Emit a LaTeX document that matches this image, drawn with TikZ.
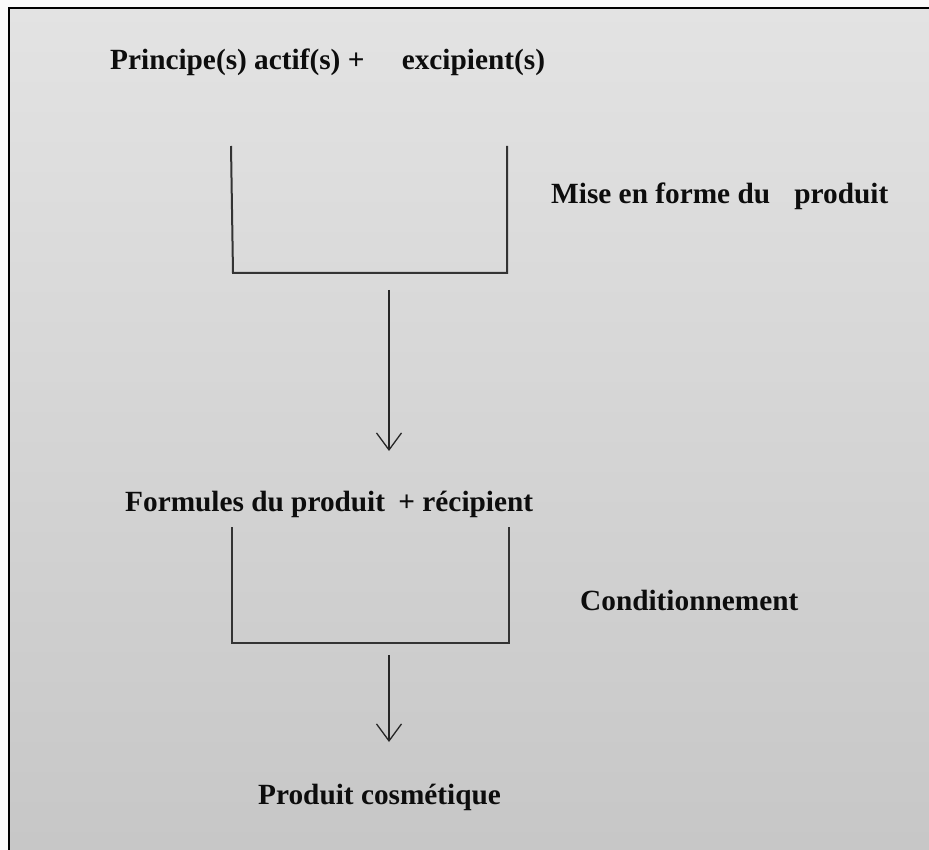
\documentclass[tikz,border=0pt]{standalone}
\usepackage{fontspec}
\setmainfont{Liberation Serif}
\usetikzlibrary{arrows.meta}
\begin{document}
\begin{tikzpicture}[x=1pt,y=-1pt,
  lbl/.style={font=\fontsize{29.3}{34}\selectfont\bfseries, text=black!95, anchor=base west, inner sep=0pt},
  bracketline/.style={line width=2pt, draw=black!80},
  flow/.style={line width=1.5pt, draw=black!85, -{Straight Barb[length=17pt,width=25pt,line width=1.3pt]}}]
\useasboundingbox (0,0) rectangle (929,850);
\fill[white!98!black] (0,0) rectangle (929,850);
\shade[top color=black!11, bottom color=black!22] (9,8) rectangle (929,850);
\draw[line width=2.6pt, black] (9,850) -- (9,8) -- (929,8);
% texts
\node[lbl] (t1) at (110,70) {Principe(s) actif(s) +\hspace{30pt} excipient(s)};
\node[lbl] (t2) at (551,204) {Mise en forme du\hspace{17pt} produit};
\node[lbl] (t3) at (125,511) {Formules du produit\hspace{6pt} + récipient};
\node[lbl] (t4) at (580,610) {Conditionnement};
\node[lbl] (t5) at (258,804) {Produit cosmétique};
% bracket 1
\coordinate (b1tl) at (231,146);
\coordinate (b1bl) at (233,273);
\coordinate (b1br) at (507,273);
\coordinate (b1tr) at (507,146);
\draw[bracketline] (b1tl) -- (b1bl) -- (b1br) -- (b1tr);
% bracket 2
\coordinate (b2tl) at (232,527);
\coordinate (b2bl) at (232,643);
\coordinate (b2br) at (509,643);
\coordinate (b2tr) at (509,527);
\draw[bracketline] (b2tl) -- (b2bl) -- (b2br) -- (b2tr);
% arrows
\coordinate (a1s) at (389,290);
\coordinate (a1e) at (389,451);
\draw[flow] (a1s) -- (a1e);
\coordinate (a2s) at (389,655);
\coordinate (a2e) at (389,742);
\draw[flow] (a2s) -- (a2e);
\end{tikzpicture}
\end{document}
